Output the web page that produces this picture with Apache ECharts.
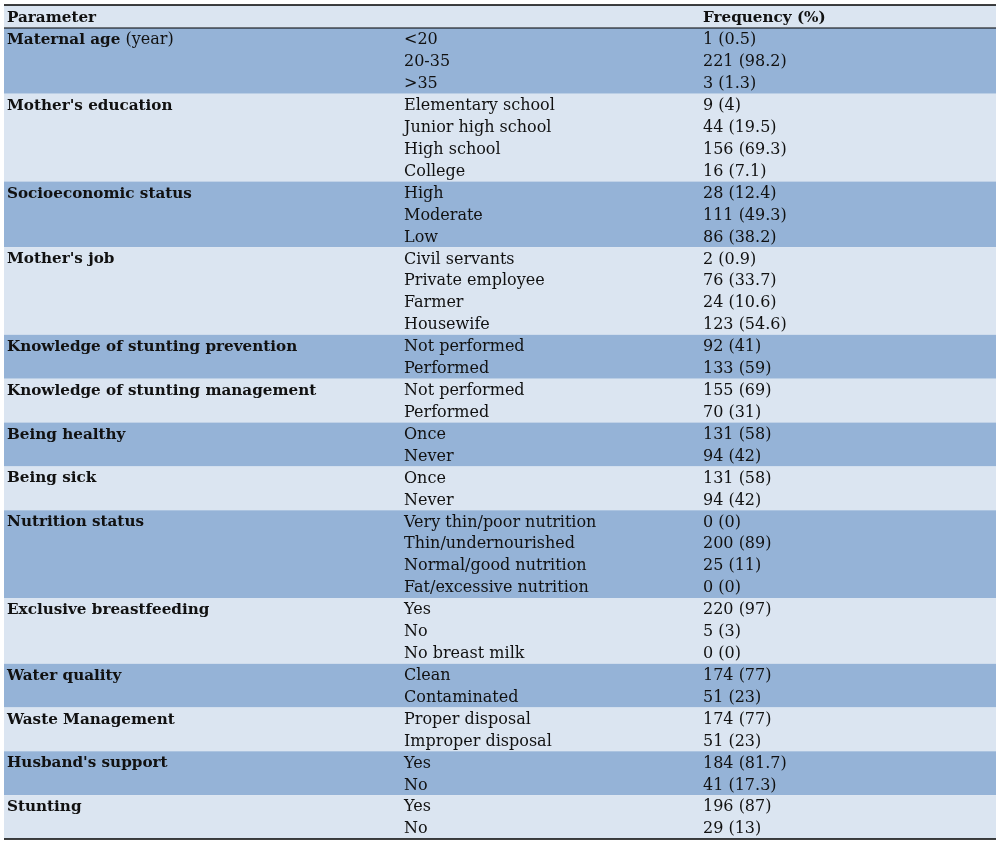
<!DOCTYPE html>
<html>
<head>
<meta charset="utf-8">
<script src="https://cdn.jsdelivr.net/npm/echarts@6/dist/echarts.min.js"></script>
<style>
html,body{margin:0;padding:0;background:#fff;}
#chart{width:1004px;height:847px;}
</style>
</head>
<body>
<div id="chart"></div>
<script>
// ---- data ----
const headerLabels = ['Parameter', '', 'Frequency (%)'];
const params = ['Maternal age', "Mother's education", 'Socioeconomic status', "Mother's job",
  'Knowledge of stunting prevention', 'Knowledge of stunting management', 'Being healthy',
  'Being sick', 'Nutrition status', 'Exclusive breastfeeding', 'Water quality',
  'Waste Management', "Husband's support", 'Stunting'];
const paramNotes = [' (year)', '', '', '', '', '', '', '', '', '', '', '', '', ''];
const levels = [
  ['<20', '20-35', '>35'],
  ['Elementary school', 'Junior high school', 'High school', 'College'],
  ['High', 'Moderate', 'Low'],
  ['Civil servants', 'Private employee', 'Farmer', 'Housewife'],
  ['Not performed', 'Performed'],
  ['Not performed', 'Performed'],
  ['Once', 'Never'],
  ['Once', 'Never'],
  ['Very thin/poor nutrition', 'Thin/undernourished', 'Normal/good nutrition', 'Fat/excessive nutrition'],
  ['Yes', 'No', 'No breast milk'],
  ['Clean', 'Contaminated'],
  ['Proper disposal', 'Improper disposal'],
  ['Yes', 'No'],
  ['Yes', 'No']
];
const counts = [
  [1, 221, 3],
  [9, 44, 156, 16],
  [28, 111, 86],
  [2, 76, 24, 123],
  [92, 133],
  [155, 70],
  [131, 94],
  [131, 94],
  [0, 200, 25, 0],
  [220, 5, 0],
  [174, 51],
  [174, 51],
  [184, 41],
  [196, 29]
];
const percents = [
  ['0.5', '98.2', '1.3'],
  ['4', '19.5', '69.3', '7.1'],
  ['12.4', '49.3', '38.2'],
  ['0.9', '33.7', '10.6', '54.6'],
  ['41', '59'],
  ['69', '31'],
  ['58', '42'],
  ['58', '42'],
  ['0', '89', '11', '0'],
  ['97', '3', '0'],
  ['77', '23'],
  ['77', '23'],
  ['81.7', '17.3'],
  ['87', '13']
];

// ---- layout constants (not data) ----
const HEADER_H = 1.05;
const X_MAX = 992;
const COL_X = [3, 400, 699];
const DARK = '#95b3d7';
const LIGHT = '#dbe5f1';
const FONT = '"DejaVu Serif", serif';
const FS = 16;
const FS_B = 15.2;

// build rows
let bands = [[-HEADER_H, HEADER_H, 0]];
let texts = [];
headerLabels.forEach((t, c) => { if (t) texts.push([-HEADER_H / 2, c, '{b|' + t + '}']); });
let row = 0;
params.forEach((p, g) => {
  bands.push([row, levels[g].length, g % 2 === 0 ? 1 : 0]);
  texts.push([row + 0.5, 0, '{b|' + p + '}' + paramNotes[g]]);
  levels[g].forEach((lv, k) => {
    texts.push([row + k + 0.5, 1, lv]);
    texts.push([row + k + 0.5, 2, counts[g][k] + ' (' + percents[g][k] + ')']);
  });
  row += levels[g].length;
});
const rules = [[-HEADER_H, 1.6], [0, 1.1], [row, 1.6]];

const chart = echarts.init(document.getElementById('chart'), null, {renderer: 'canvas'});
chart.setOption({
  animation: false,
  grid: {left: 4, right: 8, top: 5, bottom: 8},
  xAxis: {type: 'value', min: 0, max: X_MAX, show: false},
  yAxis: {type: 'value', min: -HEADER_H, max: row, inverse: true, show: false},
  series: [
    {
      type: 'custom',
      data: bands,
      silent: true,
      renderItem: (params, api) => {
        const s = api.value(0), n = api.value(1), dark = api.value(2);
        const p0 = api.coord([0, s]);
        const p1 = api.coord([X_MAX, s + n]);
        return {type: 'rect', shape: {x: p0[0], y: p0[1], width: p1[0] - p0[0], height: p1[1] - p0[1]},
          style: {fill: dark ? DARK : LIGHT}};
      }
    },
    {
      type: 'custom',
      data: rules,
      silent: true,
      z: 5,
      renderItem: (params, api) => {
        const y = api.value(0), w = api.value(1);
        const p0 = api.coord([0, y]);
        const p1 = api.coord([X_MAX, y]);
        return {type: 'line', shape: {x1: p0[0], y1: p0[1], x2: p1[0], y2: p1[1]},
          style: {stroke: '#000', lineWidth: w}};
      }
    },
    {
      type: 'custom',
      data: texts.map(t => ({value: [t[0], t[1]], label: t[2]})),
      silent: true,
      z: 6,
      renderItem: (params, api) => {
        const item = texts[params.dataIndex];
        const p = api.coord([COL_X[item[1]], item[0]]);
        return {type: 'text', x: p[0], y: p[1] + 1.2,
          style: {text: item[2], fill: '#111', fontSize: FS, fontFamily: FONT,
            align: 'left', verticalAlign: 'middle',
            rich: {b: {fontWeight: 'bold', fontSize: FS_B, fontFamily: FONT, fill: '#111'}}}};
      }
    }
  ]
});
</script>
</body>
</html>
